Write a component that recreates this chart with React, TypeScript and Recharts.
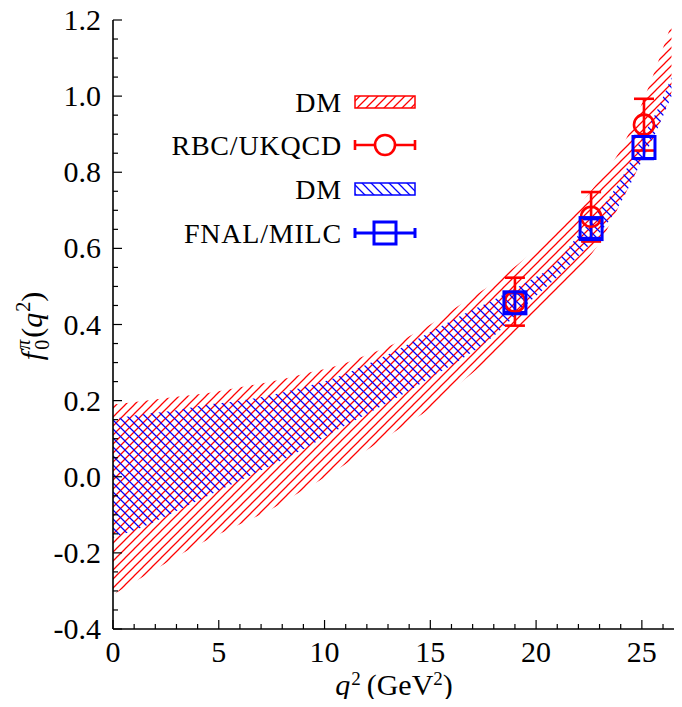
import React from 'react';
import { ComposedChart, Area, Scatter, ErrorBar, XAxis, YAxis, Legend } from 'recharts';

// q^2 grid for the DM bands (GeV^2)
const qGrid = [0, 1.5, 3, 4.5, 6, 7.5, 9, 10.5, 12, 13.5, 15, 16.5, 18, 19.5, 21, 22, 23, 24, 25, 25.7, 26.4];
// red DM band (matched to RBC/UKQCD)
const redLow = [-0.31, -0.26, -0.21, -0.165, -0.125, -0.085, -0.035, 0.015, 0.07, 0.125, 0.18, 0.25, 0.32, 0.4, 0.48, 0.545, 0.615, 0.72, 0.83, 0.91, 1.01];
const redHigh = [0.19, 0.2, 0.21, 0.22, 0.235, 0.25, 0.27, 0.29, 0.32, 0.355, 0.4, 0.455, 0.51, 0.575, 0.65, 0.71, 0.78, 0.86, 0.98, 1.08, 1.19];
// blue DM band (matched to FNAL/MILC)
const blueLow = [-0.16, -0.13, -0.09, -0.05, -0.01, 0.03, 0.072, 0.12, 0.165, 0.21, 0.26, 0.31, 0.37, 0.45, 0.525, 0.58, 0.64, 0.72, 0.83, 0.91, 1.0];
const blueHigh = [0.152, 0.165, 0.175, 0.19, 0.2, 0.215, 0.235, 0.26, 0.295, 0.335, 0.38, 0.425, 0.465, 0.51, 0.565, 0.635, 0.7, 0.78, 0.89, 0.96, 1.05];

// lattice points
const latticeQ2 = [19.0, 22.6, 25.1];
const rbcF = [0.46, 0.683, 0.925];
const rbcErr = [0.063, 0.065, 0.068];
const fnalF = [0.457, 0.652, 0.865];
const fnalErr = [0.025, 0.025, 0.03];

const xTicks = Array.from({ length: 27 }, (_, i) => i);
const yTicks = Array.from({ length: 33 }, (_, i) => Math.round((-0.4 + i * 0.05) * 100) / 100);

const bandData = qGrid.map((q, i) => ({
  q,
  red: [redLow[i], redHigh[i]],
  blue: [blueLow[i], blueHigh[i]],
}));
const rbcData = latticeQ2.map((q, i) => ({ q, f: rbcF[i], err: rbcErr[i] }));
const fnalData = latticeQ2.map((q, i) => ({ q, f: fnalF[i], err: fnalErr[i] }));

const FONT = '"Liberation Serif", "DejaVu Serif", serif';
const RED = '#ff0000';
const BLUE = '#0000ff';
const TICK_FS = 30;

const isMajorX = (v: number) => v % 5 === 0;
const isMajorY = (v: number) => Math.abs(Math.round(v * 100) % 20) === 0;

const BottomTick = (props: any) => {
  const { x, y, payload } = props;
  const v = payload.value;
  const major = isMajorX(v);
  return (
    <g>
      <line x1={x} x2={x} y1={y} y2={y - (major ? 9 : 5)} stroke="#000" strokeWidth={1.2} />
      {major && (
        <text x={x} y={y + 33} textAnchor="middle" fontFamily={FONT} fontSize={TICK_FS} fill="#000">
          {v}
        </text>
      )}
    </g>
  );
};

const TopTick = (props: any) => {
  const { x, y, payload } = props;
  const major = isMajorX(payload.value);
  return <line x1={x} x2={x} y1={y} y2={y + (major ? 9 : 5)} stroke="#000" strokeWidth={1.2} />;
};

const LeftTick = (props: any) => {
  const { x, y, payload } = props;
  const v = payload.value;
  const major = isMajorY(v);
  return (
    <g>
      <line x1={x} x2={x + (major ? 9 : 5)} y1={y} y2={y} stroke="#000" strokeWidth={1.2} />
      {major && (
        <text x={x - 12} y={y + 10} textAnchor="end" fontFamily={FONT} fontSize={TICK_FS} fill="#000">
          {v.toFixed(1)}
        </text>
      )}
    </g>
  );
};

const RightTick = (props: any) => {
  const { x, y, payload } = props;
  const major = isMajorY(payload.value);
  return <line x1={x} x2={x - (major ? 9 : 5)} y1={y} y2={y} stroke="#000" strokeWidth={1.2} />;
};

const Circle = (props: any) => (
  <circle cx={props.cx} cy={props.cy} r={10} fill="none" stroke={RED} strokeWidth={2.6} />
);
const Square = (props: any) => (
  <rect x={props.cx - 11} y={props.cy - 11} width={22} height={22} fill="none" stroke={BLUE} strokeWidth={3} />
);

const LegendBox = () => {
  const rows = [
    { label: 'DM', kind: 'redBand', y: 22 },
    { label: 'RBC/UKQCD', kind: 'circle', y: 65 },
    { label: 'DM', kind: 'blueBand', y: 109 },
    { label: 'FNAL/MILC', kind: 'square', y: 153 },
  ];
  return (
    <svg width={270} height={175} style={{ overflow: 'visible' }}>
      {rows.map((r) => (
        <g key={r.label + r.y}>
          <text x={182} y={r.y + 10} textAnchor="end" fontFamily={FONT} fontSize={28} letterSpacing={0.8} fill="#000">
            {r.label}
          </text>
          {r.kind === 'redBand' && (
            <rect x={195} y={r.y - 6} width={60} height={12} fill="url(#redHatch)" stroke={RED} strokeWidth={1.5} />
          )}
          {r.kind === 'blueBand' && (
            <rect x={195} y={r.y - 6} width={60} height={12} fill="url(#blueHatch)" stroke={BLUE} strokeWidth={1.5} />
          )}
          {r.kind === 'circle' && (
            <g stroke={RED} strokeWidth={2.6} fill="none">
              <line x1={195} x2={255} y1={r.y} y2={r.y} />
              <line x1={195} x2={195} y1={r.y - 5} y2={r.y + 5} />
              <line x1={255} x2={255} y1={r.y - 5} y2={r.y + 5} />
              <circle cx={225} cy={r.y} r={10} fill="#fff" />
            </g>
          )}
          {r.kind === 'square' && (
            <g stroke={BLUE} strokeWidth={3} fill="none">
              <line x1={195} x2={255} y1={r.y} y2={r.y} />
              <line x1={195} x2={195} y1={r.y - 5} y2={r.y + 5} />
              <line x1={255} x2={255} y1={r.y - 5} y2={r.y + 5} />
              <rect x={214} y={r.y - 11} width={22} height={22} fill="#fff" />
              <line x1={214} x2={236} y1={r.y} y2={r.y} />
            </g>
          )}
        </g>
      ))}
    </svg>
  );
}

export default function App() {
  return (
    <div style={{ width: 674, height: 707, position: 'relative', marginTop: -8, marginBottom: -8 }}>
      <ComposedChart
        width={674}
        height={707}
        data={bandData}
        margin={{ top: 20, right: 1, bottom: 0, left: 0 }}
        style={{ overflow: 'visible' }}
      >
        <defs>
          <pattern id="redHatch" patternUnits="userSpaceOnUse" width={9} height={9}>
            <path d="M-1,1 l2,-2 M0,9 l9,-9 M8,10 l2,-2" stroke={RED} strokeWidth={1.25} fill="none" />
          </pattern>
          <pattern id="blueHatch" patternUnits="userSpaceOnUse" width={9} height={9}>
            <path d="M-1,8 l2,2 M0,0 l9,9 M8,-1 l2,2" stroke={BLUE} strokeWidth={1.25} fill="none" />
          </pattern>
        </defs>
        <XAxis
          xAxisId="bottom"
          dataKey="q"
          type="number"
          domain={[0, 26.85]}
          ticks={xTicks}
          interval={0}
          allowDataOverflow
          height={78}
          tickSize={0}
          tickMargin={0}
          tickLine={false}
          tick={<BottomTick />}
          axisLine={{ stroke: '#000', strokeWidth: 1.6 }}
        />
        <XAxis
          xAxisId="top"
          orientation="top"
          dataKey="q"
          type="number"
          domain={[0, 26.85]}
          ticks={xTicks}
          interval={0}
          allowDataOverflow
          height={0}
          tickSize={0}
          tickMargin={0}
          tickLine={false}
          tick={<TopTick />}
          axisLine={{ stroke: '#000', strokeWidth: 1.6 }}
        />
        <YAxis
          yAxisId="left"
          type="number"
          domain={[-0.4, 1.2]}
          ticks={yTicks}
          interval={0}
          allowDataOverflow
          width={105}
          tickSize={0}
          tickMargin={0}
          tickLine={false}
          tick={<LeftTick />}
          axisLine={{ stroke: '#000', strokeWidth: 1.6 }}
        />
        <YAxis
          yAxisId="right"
          orientation="right"
          type="number"
          domain={[-0.4, 1.2]}
          ticks={yTicks}
          interval={0}
          allowDataOverflow
          width={0}
          tickSize={0}
          tickMargin={0}
          tickLine={false}
          tick={<RightTick />}
          axisLine={{ stroke: '#000', strokeWidth: 1.6 }}
        />
        <Area
          xAxisId="bottom"
          yAxisId="left"
          dataKey="red"
          type="monotone"
          stroke="none"
          fill="url(#redHatch)"
          fillOpacity={1}
          isAnimationActive={false}
        />
        <Area
          xAxisId="bottom"
          yAxisId="left"
          dataKey="blue"
          type="monotone"
          stroke="none"
          fill="url(#blueHatch)"
          fillOpacity={1}
          isAnimationActive={false}
        />
        <Scatter
          xAxisId="bottom"
          yAxisId="left"
          data={rbcData}
          dataKey="f"
          shape={<Circle />}
          isAnimationActive={false}
        >
          <ErrorBar dataKey="err" direction="y" width={10} stroke={RED} strokeWidth={2.6} />
        </Scatter>
        <Scatter
          xAxisId="bottom"
          yAxisId="left"
          data={fnalData}
          dataKey="f"
          shape={<Square />}
          isAnimationActive={false}
        >
          <ErrorBar dataKey="err" direction="y" width={10} stroke={BLUE} strokeWidth={2.6} />
        </Scatter>
        <Legend
          layout="vertical"
          align="center"
          verticalAlign="middle"
          content={() => <LegendBox />}
          wrapperStyle={{ position: 'absolute', left: 152, top: 80, width: 270, height: 175 }}
        />
      </ComposedChart>
      <svg
        width={674}
        height={707}
        style={{ position: 'absolute', left: 0, top: 0, pointerEvents: 'none', overflow: 'visible' }}
      >
        <text x={34} y={326} transform="rotate(-90 34 326)" textAnchor="middle" fontFamily={FONT} fontSize={30} fill="#000">
          <tspan fontStyle="italic">f</tspan>
          <tspan fontSize={20} dx={2} dy={7}>0</tspan>
          <tspan fontSize={20} fontStyle="italic" dx={-10} dy={-19}>π</tspan>
          <tspan dx={2} dy={12}>(</tspan>
          <tspan fontStyle="italic">q</tspan>
          <tspan fontSize={20} dx={1} dy={-12}>2</tspan>
          <tspan dy={12}>)</tspan>
        </text>
        <text x={386} y={695} textAnchor="middle" fontFamily={FONT} fontSize={30} fill="#000">
          <tspan fontStyle="italic">q</tspan>
          <tspan fontSize={19} dx={1} dy={-10}>2</tspan>
          <tspan dx={6} dy={10}>(GeV</tspan>
          <tspan fontSize={19} dy={-10}>2</tspan>
          <tspan dy={10}>)</tspan>
        </text>
      </svg>
    </div>
  );
}
